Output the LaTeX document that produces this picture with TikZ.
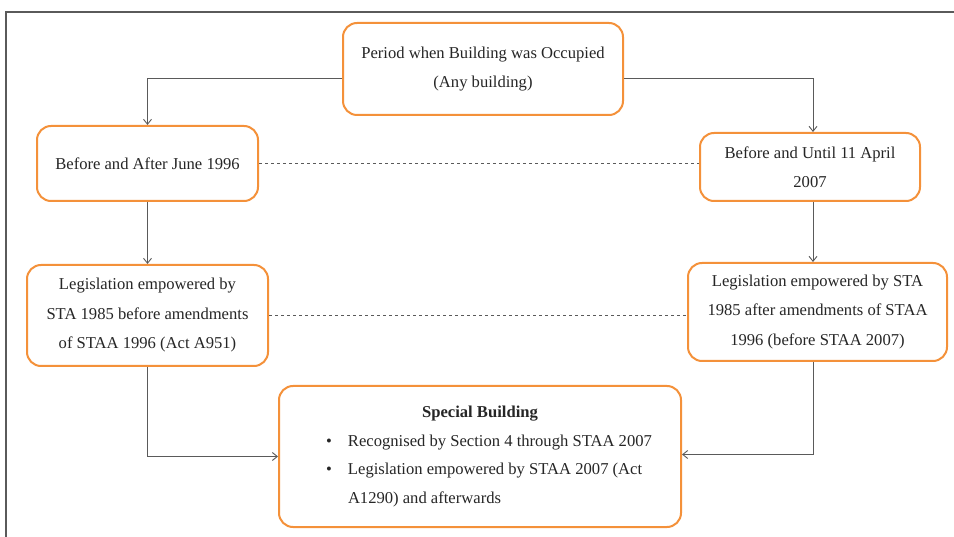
\documentclass[tikz,border=0pt]{standalone}
\usepackage{fontspec}
\setmainfont{Liberation Serif}
\newfontfamily\tmsfont{Liberation Serif}
\usetikzlibrary{arrows.meta}
\definecolor{boxorange}{HTML}{F4913A}
\definecolor{linegray}{HTML}{5A5A5A}
\begin{document}
\begin{tikzpicture}[x=1pt,y=-1pt,
  box/.style={draw=boxorange, line width=2pt, rounded corners=14pt, fill=white,
    align=center, inner sep=2pt, text=black!85, font=\tmsfont\fontsize{16.6}{29.5}\selectfont},
  conn/.style={draw=linegray, line width=0.9pt, -{Straight Barb[length=5pt,width=8pt]}},
  dashline/.style={draw=linegray, line width=0.9pt, dash pattern=on 3pt off 3pt},
  frameline/.style={draw=linegray, line width=1.4pt}]
\useasboundingbox (0,0) rectangle (954,537);
\draw[frameline] (6,537) -- (6,12) -- (954,12);

\node[box, minimum width=280pt, minimum height=92pt] (top) at (483,69)
  {Period when Building was Occupied\\(Any building)};
\node[box, minimum width=221pt, minimum height=75pt] (l1) at (147.5,163.5)
  {Before and After June 1996};
\node[box, minimum width=220pt, minimum height=68pt] (r1) at (810,167)
  {Before and Until 11 April\\2007};
\node[box, minimum width=241pt, minimum height=101pt] (l2) at (147.5,315.5)
  {Legislation empowered by\\STA 1985 before amendments\\of STAA 1996 (Act A951)};
\node[box, minimum width=259pt, minimum height=98pt] (r2) at (817.5,312)
  {Legislation empowered by STA\\1985 after amendments of STAA\\1996 (before STAA 2007)};
\node[box, minimum width=402pt, minimum height=141pt] (sb) at (480,456.5)
  {\begin{minipage}{348pt}\tmsfont\fontsize{16.6}{28.5}\selectfont
   \centering\textbf{Special Building}\par
   \raggedright
   \hspace*{20pt}\makebox[22pt][l]{\textbullet}Recognised by Section 4 through STAA 2007\par
   \hspace*{20pt}\makebox[22pt][l]{\textbullet}Legislation empowered by STAA 2007 (Act\par
   \hspace*{42pt}A1290) and afterwards\par
   \end{minipage}};

\draw[conn] ([yshift=-9pt]top.west) -| (l1.north);
\draw[conn] ([yshift=-9pt]top.east) -| ([xshift=3pt]r1.north);
\draw[conn] (l1.south) -- (l2.north);
\draw[conn] ([xshift=3pt]r1.south) -- ([xshift=3pt]r1.south |- r2.north);
\draw[conn] (l2.south) |- (sb.west);
\draw[conn] ([xshift=-4.5pt]r2.south) |- ([yshift=2pt]sb.east);
\draw[dashline] (l1.east) -- (r1.west |- l1.east);
\draw[dashline] (l2.east) -- (r2.west |- l2.east);
\end{tikzpicture}
\end{document}
